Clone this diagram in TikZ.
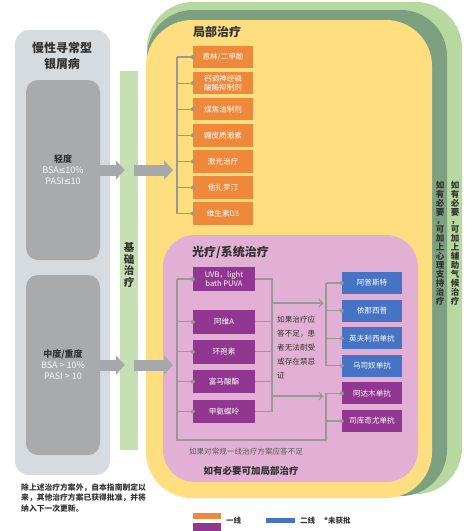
\documentclass[tikz,border=0pt]{standalone}
\usepackage{fontspec}
\setmainfont{Noto Sans CJK SC}
\newfontfamily\symfont{DejaVu Sans}
\usetikzlibrary{positioning,arrows.meta}
\definecolor{PanelGray}{RGB}{214,219,223}
\definecolor{InnerGray}{RGB}{168,170,172}
\definecolor{ArrowGray}{RGB}{166,169,171}
\definecolor{BaseGreen}{RGB}{198,224,180}
\definecolor{ClimateGreen}{RGB}{183,217,160}
\definecolor{PsychGreen}{RGB}{125,160,128}
\definecolor{TopYellow}{RGB}{255,222,128}
\definecolor{SysPink}{RGB}{226,176,212}
\definecolor{TopOrange}{RGB}{238,137,60}
\definecolor{SysPurple}{RGB}{145,55,145}
\definecolor{BioBlue}{RGB}{70,115,195}
\definecolor{LinkGray}{RGB}{150,152,154}
\definecolor{InkDark}{RGB}{50,50,50}

\newcommand{\leqsym}{{\symfont\kern-0.5pt≤\kern-0.5pt}}

\tikzset{
	boxfont/.style={font=\fontsize{7.6}{9}\selectfont},
	topbox/.style={fill=TopOrange, text=white, minimum width=60pt, minimum height=22.5pt, inner sep=1pt, align=center, boxfont},
	sysbox/.style={fill=SysPurple, text=white, minimum width=62pt, minimum height=23.5pt, inner sep=1pt, align=center, boxfont},
	biobox/.style={fill=BioBlue, text=white, minimum width=60pt, minimum height=22pt, inner sep=1pt, align=center, boxfont},
	sevbox/.style={fill=InnerGray, rounded corners=12pt, minimum width=74pt, minimum height=180pt, inner sep=0pt, align=center},
	link/.style={draw=LinkGray, line width=1.1pt},
	linkdot/.style={circle, fill=LinkGray, inner sep=0pt, minimum size=4pt},
	bigarrow/.style={draw=ArrowGray, line width=11pt, -{Triangle[length=9pt,width=19pt]}},
	thinarrow/.style={link, -{Straight Barb[length=4pt,width=8pt]}},
	heading/.style={anchor=west, inner sep=0pt, text=InkDark, font=\fontsize{12}{14}\selectfont\bfseries},
	vtext/.style={align=center, inner sep=0pt, text=InkDark, font=\fontsize{8.5}{8.9}\selectfont\bfseries},
	swatch/.style={inner sep=0pt, minimum width=28pt}
}

\begin{document}
\begin{tikzpicture}[x=1pt,y=-1pt]
	\useasboundingbox (0,0) rectangle (474,531);
	
	% left panel
	\fill[PanelGray, rounded corners=14pt] (15,30) rectangle (110,475);
	\node[align=center, inner sep=0pt, text=InkDark, font=\fontsize{12}{16}\selectfont\bfseries] (title) at (62,56) {慢性寻常型\\银屑病};
	
	\node[sevbox] (mild) at (63,170)
	{{\fontsize{9}{10.5}\selectfont\bfseries\color{InkDark}轻度}\\[-1pt]
		{\fontsize{9}{10.5}\selectfont\color{white!93!gray}BSA\leqsym10\%}\\[-1pt]
		{\fontsize{9}{10.5}\selectfont\color{white!93!gray}PASI\leqsym10}};
	
	\node[sevbox] (severe) at (63,365)
	{{\fontsize{9}{10.5}\selectfont\bfseries\color{InkDark}中度/重度}\\[-1pt]
		{\fontsize{9}{10.5}\selectfont\color{white!93!gray}BSA > 10\%}\\[-1pt]
		{\fontsize{9}{10.5}\selectfont\color{white!93!gray}PASI > 10}};
	
	% basic therapy bar
	\node[fill=BaseGreen, minimum width=18pt, minimum height=379pt, inner sep=0pt] (base) at (129,260.5) {};
	\node[vtext, font=\fontsize{10.5}{11.5}\selectfont\bfseries] (baselbl) at (129,265) {基\\础\\治\\疗};
	
	% nested layers
	\fill[ClimateGreen, rounded corners=46pt] (147,2) rectangle (462,494);
	\fill[PsychGreen, rounded corners=46pt] (147,10) rectangle (447,496);
	\fill[TopYellow, rounded corners=46pt] (146,20) rectangle (432,498);
	\fill[SysPink, rounded corners=32pt] (163,235) rectangle (418,482);
	
	\node[vtext] (climate) at (455,243) {如\\有\\必\\要\\，\\可\\加\\上\\辅\\助\\气\\候\\治\\疗};
	\node[vtext] (psych) at (440,243) {如\\有\\必\\要\\，\\可\\加\\上\\心\\理\\支\\持\\治\\疗};
	
	% topical therapy
	\node[heading] (toph) at (193,32) {局部治疗};
	
	\node[topbox] (tb1) at (223,57) {蒽林/二甲酚};
	\node[topbox, below=3.2pt of tb1] (tb2) {钙调神经磷\\酸酶抑制剂};
	\node[topbox, below=3.2pt of tb2] (tb3) {煤焦油制剂};
	\node[topbox, below=3.2pt of tb3] (tb4) {糖皮质激素};
	\node[topbox, below=3.2pt of tb4] (tb5) {激光治疗};
	\node[topbox, below=3.2pt of tb5] (tb6) {他扎罗汀};
	\node[topbox, below=3.2pt of tb6] (tb7) {维生素D3};
	
	\coordinate (topL) at (177,0);
	\draw[link] (tb1.west -| topL) -- (tb7.west -| topL);
	\draw[link] (tb1.west -| topL) -- (tb1.west) node[linkdot] {};
	\draw[link] (tb2.west -| topL) -- (tb2.west) node[linkdot] {};
	\draw[link] (tb3.west -| topL) -- (tb3.west) node[linkdot] {};
	\draw[link] (tb4.west -| topL) -- (tb4.west) node[linkdot] {};
	\draw[link] (tb5.west -| topL) -- (tb5.west) node[linkdot] {};
	\draw[link] (tb6.west -| topL) -- (tb6.west) node[linkdot] {};
	\draw[link] (tb7.west -| topL) -- (tb7.west) node[linkdot] {};
	
	% phototherapy / systemic therapy
	\node[heading] (sysh) at (192,252) {光疗/系统治疗};
	
	\node[sysbox] (sb1) at (224,279) {UVB，light\\bath PUVA};
	\node[sysbox, below=19pt of sb1] (sb2) {阿维A};
	\node[sysbox, below=6pt of sb2] (sb3) {环孢素};
	\node[sysbox, below=6pt of sb3] (sb4) {富马酸酯};
	\node[sysbox, below=6pt of sb4] (sb5) {甲氨蝶呤};
	
	\node[biobox] (bb1) at (372,283) {阿普斯特};
	\node[biobox, below=5.2pt of bb1] (bb2) {依那西普};
	\node[biobox, below=5.2pt of bb2] (bb3) {英夫利西单抗};
	\node[biobox, below=5.2pt of bb3] (bb4) {乌司奴单抗};
	\node[biobox, fill=SysPurple, below=5.2pt of bb4] (bb5) {阿达木单抗};
	\node[biobox, fill=SysPurple, below=5.2pt of bb5] (bb6) {司库奇尤单抗};
	
	\coordinate (sysL) at (177,0);
	\coordinate (sysR) at (272,0);
	\coordinate (bioL) at (326,0);
	\coordinate (sysLow) at (177,440);
	\coordinate (bioLow) at (326,440);
	\coordinate (upFork) at (272,303);
	\coordinate (lowFork) at (272,396);
	
	\draw[link] (sb1.west -| sysL) -- (sysLow) -- (bioLow) -- (bb5.west -| bioL);
	\draw[link] (sb1.west -| sysL) -- (sb1.west) node[linkdot] {};
	\draw[link] (sb2.west -| sysL) -- (sb2.west) node[linkdot] {};
	\draw[link] (sb3.west -| sysL) -- (sb3.west) node[linkdot] {};
	\draw[link] (sb4.west -| sysL) -- (sb4.west) node[linkdot] {};
	\draw[link] (sb5.west -| sysL) -- (sb5.west) node[linkdot] {};
	
	\draw[link] (sb1.east) -- (sb1.east -| sysR) -- (sb5.east -| sysR) -- (sb5.east);
	\draw[link] (sb2.east) -- (sb2.east -| sysR);
	\draw[link] (sb3.east) -- (sb3.east -| sysR);
	\draw[link] (sb4.east) -- (sb4.east -| sysR);
	
	\draw[thinarrow, shorten >=2.5pt] (upFork) -- (upFork -| bioL);
	\draw[thinarrow, shorten >=2.5pt] (lowFork) -- (lowFork -| bioL);
	
	\draw[link] (bb1.west -| bioL) -- (bb4.west -| bioL);
	\draw[link] (bb1.west -| bioL) -- (bb1.west) node[linkdot] {};
	\draw[link] (bb2.west -| bioL) -- (bb2.west) node[linkdot] {};
	\draw[link] (bb3.west -| bioL) -- (bb3.west) node[linkdot] {};
	\draw[link] (bb4.west -| bioL) -- (bb4.west) node[linkdot] {};
	\draw[link] (bb5.west -| bioL) -- (bb6.west -| bioL);
	\draw[link] (bb5.west -| bioL) -- (bb5.west) node[linkdot] {};
	\draw[link] (bb6.west -| bioL) -- (bb6.west) node[linkdot] {};
	
	\node[anchor=north west, align=left, inner sep=0pt, text=InkDark, font=\fontsize{7.6}{14}\selectfont] (failnote) at (277,316)
	{如果治疗应\\答不足，患\\者无法耐受\\或存在禁忌\\证};
	
	\node[inner sep=0pt, text=InkDark!80, font=\fontsize{7.6}{9}\selectfont] (firstfail) at (246,452) {如果对常规一线治疗方案应答不足};
	\node[inner sep=0pt, text=InkDark, font=\fontsize{9.5}{11}\selectfont\bfseries] (addtop) at (251,471) {如有必要可加局部治疗};
	
	% big arrows
	\coordinate (topIn) at (173,0);
	\draw[bigarrow] (mild.east) -- ([xshift=5pt]base.west |- mild.east);
	\draw[bigarrow] ([xshift=-4pt]base.east |- mild.east) -- (topIn |- mild.east);
	\draw[bigarrow] (severe.east) -- ([xshift=5pt]base.west |- severe.east);
	\draw[bigarrow] ([xshift=-4pt]base.east |- severe.east) -- (topIn |- severe.east);
	
	% footnote and legend
	\node[anchor=north west, align=left, inner sep=0pt, text=InkDark, font=\fontsize{7.8}{10.5}\selectfont\bfseries] (update) at (21,483)
	{除上述治疗方案外，自本指南制定以\\来，其他治疗方案已获得批准，并将\\纳入下一次更新。};
	
	\node[swatch, fill=TopOrange, minimum height=6.5pt] (lgOrange) at (207,516) {};
	\node[swatch, fill=SysPurple, minimum height=8pt, below=3.5pt of lgOrange] (lgPurple) {};
	\node[swatch, fill=BioBlue, minimum width=29pt, minimum height=5.5pt] (lgBlue) at (280.5,520.5) {};
	\node[anchor=west, inner sep=0pt, text=InkDark, font=\fontsize{7.5}{9}\selectfont\bfseries] (lgFirst) at (226,521) {一线};
	\node[anchor=west, inner sep=0pt, text=InkDark, font=\fontsize{7.5}{9}\selectfont\bfseries] (lgSecond) at (300,521) {二线};
	\node[anchor=west, inner sep=0pt, text=InkDark, font=\fontsize{7.5}{9}\selectfont\bfseries] (lgNone) at (324,521) {*未获批};
	
\end{tikzpicture}
\end{document}
